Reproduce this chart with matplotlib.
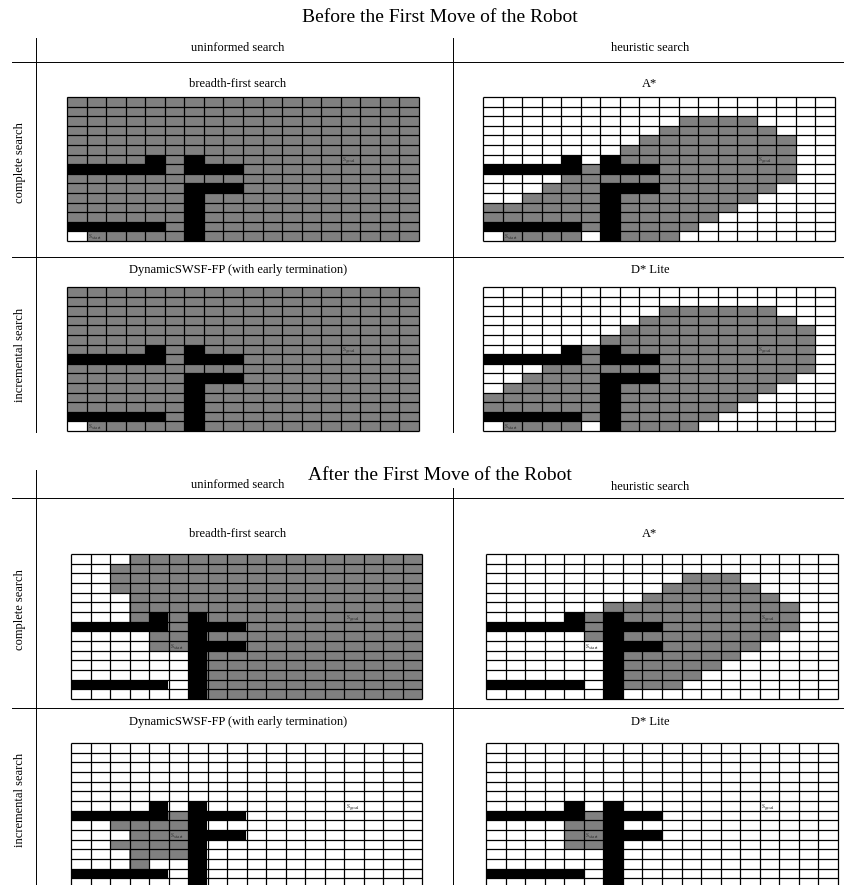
"""Cells expanded by four search methods on an 18x15 grid, before and after
the first move of the robot. Grey = expanded, black = blocked, white = free.
"""

import matplotlib

matplotlib.use("Agg")  # headless

import matplotlib.pyplot as plt  # noqa: E402
import numpy as np  # noqa: E402
from matplotlib.colors import ListedColormap  # noqa: E402
from matplotlib.lines import Line2D  # noqa: E402

W, H = 844, 885  # output size in pixels (dpi 100)
FONT = "Liberation Serif"

# '.' free, 'o' expanded, '#' blocked
BFS_BEFORE = [
    "oooooooooooooooooo",
    "oooooooooooooooooo",
    "oooooooooooooooooo",
    "oooooooooooooooooo",
    "oooooooooooooooooo",
    "oooooooooooooooooo",
    "oooo#o#ooooooooooo",
    "#####o###ooooooooo",
    "oooooooooooooooooo",
    "oooooo###ooooooooo",
    "oooooo#ooooooooooo",
    "oooooo#ooooooooooo",
    "oooooo#ooooooooooo",
    "#####o#ooooooooooo",
    ".ooooo#ooooooooooo",
]
ASTAR_BEFORE = [
    "..................",
    "..................",
    "..........oooo....",
    ".........oooooo...",
    "........oooooooo..",
    ".......ooooooooo..",
    "....#.#ooooooooo..",
    "#####o###ooooooo..",
    "....oooooooooooo..",
    "...ooo###oooooo...",
    "..oooo#ooooooo....",
    "oooooo#oooooo.....",
    "oooooo#ooooo......",
    "#####o#oooo.......",
    ".oooo.#ooo........",
]
DSWSF_BEFORE = [
    "oooooooooooooooooo",
    "oooooooooooooooooo",
    "oooooooooooooooooo",
    "oooooooooooooooooo",
    "oooooooooooooooooo",
    "oooooooooooooooooo",
    "oooo#o#ooooooooooo",
    "#####o###ooooooooo",
    "oooooooooooooooooo",
    "oooooo###ooooooooo",
    "oooooo#ooooooooooo",
    "oooooo#ooooooooooo",
    "oooooo#ooooooooooo",
    "#####o#ooooooooooo",
    ".ooooo#ooooooooooo",
]
DSTAR_BEFORE = [
    "..................",
    "..................",
    ".........oooooo...",
    "........oooooooo..",
    ".......oooooooooo.",
    "......ooooooooooo.",
    "....#o#oooooooooo.",
    "#####o###oooooooo.",
    "...oooooooooooooo.",
    "..oooo###ooooooo..",
    ".ooooo#oooooooo...",
    "oooooo#ooooooo....",
    "oooooo#oooooo.....",
    "#####o#ooooo......",
    ".oooo.#oooo.......",
]
BFS_AFTER = [
    "...ooooooooooooooo",
    "..oooooooooooooooo",
    "..oooooooooooooooo",
    "..oooooooooooooooo",
    "...ooooooooooooooo",
    "...ooooooooooooooo",
    "...o#o#ooooooooooo",
    "#####o###ooooooooo",
    "....oo#ooooooooooo",
    "....oo###ooooooooo",
    "......#ooooooooooo",
    "......#ooooooooooo",
    "......#ooooooooooo",
    "#####.#ooooooooooo",
    "......#ooooooooooo",
]
ASTAR_AFTER = [
    "..................",
    "..................",
    "..........ooo.....",
    ".........ooooo....",
    "........ooooooo...",
    "......oooooooooo..",
    "....#o#ooooooooo..",
    "#####o###ooooooo..",
    ".....o#oooooooo...",
    "......###ooooo....",
    "......#oooooo.....",
    "......#ooooo......",
    "......#oooo.......",
    "#####.#ooo........",
    "......#...........",
]
DSWSF_AFTER = [
    "..................",
    "..................",
    "..................",
    "..................",
    "..................",
    "..................",
    "....#.#...........",
    "#####o###.........",
    "..oooo#...........",
    "...ooo###.........",
    "..oooo#...........",
    "...ooo#...........",
    "...o..#...........",
    "#####.#...........",
    "......#...........",
]
DSTAR_AFTER = [
    "..................",
    "..................",
    "..................",
    "..................",
    "..................",
    "..................",
    "....#.#...........",
    "#####o###.........",
    "....oo#...........",
    "....oo###.........",
    "....oo#...........",
    "......#...........",
    "......#...........",
    "#####.#...........",
    "......#...........",
]

# (column, row) of the start / goal labels
S_GOAL = (14, 6)
S_START_BEFORE = (1, 14)
S_START_AFTER = (5, 9)

TITLES = ["Before the First Move of the Robot", "After the First Move of the Robot"]
COL_HEADERS = ["uninformed search", "heuristic search"]
ROW_HEADERS = ["complete search", "incremental search"]
PANEL_NAMES = [
    ["breadth-first search", "A*"],
    ["DynamicSWSF-FP (with early termination)", "D* Lite"],
]

CMAP = ListedColormap(["white", "#808080", "black"])
CODES = {".": 0, "o": 1, "#": 2}


def _fx(x):
    return x / W


def _fy(y):
    return 1 - y / H


def _text(fig, x, y, s, size=9, **kw):
    fig.text(_fx(x), _fy(y), s, ha="center", va="center",
             fontsize=size, family=FONT, **kw)


def _line(fig, x0, y0, x1, y1):
    fig.add_artist(Line2D([_fx(x0), _fx(x1)], [_fy(y0), _fy(y1)],
                          color="black", linewidth=0.7))


def _draw_grid(fig, box, rows, start):
    x0, y0, x1, y1 = box
    ax = fig.add_axes([_fx(x0), _fy(y1), (x1 - x0) / W, (y1 - y0) / H])
    arr = np.array([[CODES[c] for c in r] for r in rows])
    n_rows, n_cols = arr.shape
    ax.imshow(arr, cmap=CMAP, vmin=0, vmax=2, aspect="auto",
              interpolation="nearest", extent=(0, n_cols, n_rows, 0))
    ax.vlines(np.arange(n_cols + 1), 0, n_rows, color="black",
              linewidth=0.9, clip_on=False)
    ax.hlines(np.arange(n_rows + 1), 0, n_cols, color="black",
              linewidth=0.9, clip_on=False)
    for (c, r), name in ((S_GOAL, "goal"), (start, "start")):
        ax.text(c + 0.08, r + 0.62, r"$\mathrm{s}_{\mathrm{%s}}$" % name,
                ha="left", va="center", fontsize=5.5, color="#333333")
    ax.set_xlim(0, n_cols)
    ax.set_ylim(n_rows, 0)
    ax.axis("off")


def main():
    plt.rcParams["mathtext.fontset"] = "stix"
    fig = plt.figure(figsize=(W / 100, H / 100), dpi=100)

    # ---- before the first move ----
    _text(fig, 440, 18, TITLES[0], size=14)
    _line(fig, 36, 38, 36, 432)
    _line(fig, 453, 38, 453, 432)
    _line(fig, 12, 62, 844, 62)
    _line(fig, 12, 257, 844, 257)
    _text(fig, 238, 48, COL_HEADERS[0])
    _text(fig, 650, 48, COL_HEADERS[1])
    _text(fig, 20, 163, ROW_HEADERS[0], rotation=90)
    _text(fig, 20, 355, ROW_HEADERS[1], rotation=90)
    _text(fig, 238, 84, PANEL_NAMES[0][0])
    _text(fig, 650, 84, PANEL_NAMES[0][1])
    _text(fig, 238, 270, PANEL_NAMES[1][0])
    _text(fig, 650, 270, PANEL_NAMES[1][1])
    _draw_grid(fig, (67, 97, 419, 241), BFS_BEFORE, S_START_BEFORE)
    _draw_grid(fig, (483, 97, 835, 241), ASTAR_BEFORE, S_START_BEFORE)
    _draw_grid(fig, (67, 287, 419, 431), DSWSF_BEFORE, S_START_BEFORE)
    _draw_grid(fig, (483, 287, 835, 431), DSTAR_BEFORE, S_START_BEFORE)

    # ---- after the first move ----
    _text(fig, 440, 475, TITLES[1], size=14)
    _line(fig, 36, 470, 36, 885)
    _line(fig, 453, 488, 453, 885)
    _line(fig, 12, 498, 844, 498)
    _line(fig, 12, 708, 844, 708)
    _text(fig, 238, 485, COL_HEADERS[0])
    _text(fig, 650, 487, COL_HEADERS[1])
    _text(fig, 20, 610, ROW_HEADERS[0], rotation=90)
    _text(fig, 20, 800, ROW_HEADERS[1], rotation=90)
    _text(fig, 238, 534, PANEL_NAMES[0][0])
    _text(fig, 650, 534, PANEL_NAMES[0][1])
    _text(fig, 238, 722, PANEL_NAMES[1][0])
    _text(fig, 650, 722, PANEL_NAMES[1][1])
    _draw_grid(fig, (71, 554, 422, 699), BFS_AFTER, S_START_AFTER)
    _draw_grid(fig, (486, 554, 838, 699), ASTAR_AFTER, S_START_AFTER)
    _draw_grid(fig, (71, 743, 422, 888), DSWSF_AFTER, S_START_AFTER)
    _draw_grid(fig, (486, 743, 838, 888), DSTAR_AFTER, S_START_AFTER)

    fig.savefig("out.png", dpi=100)
    plt.close(fig)


if __name__ == "__main__":
    main()
